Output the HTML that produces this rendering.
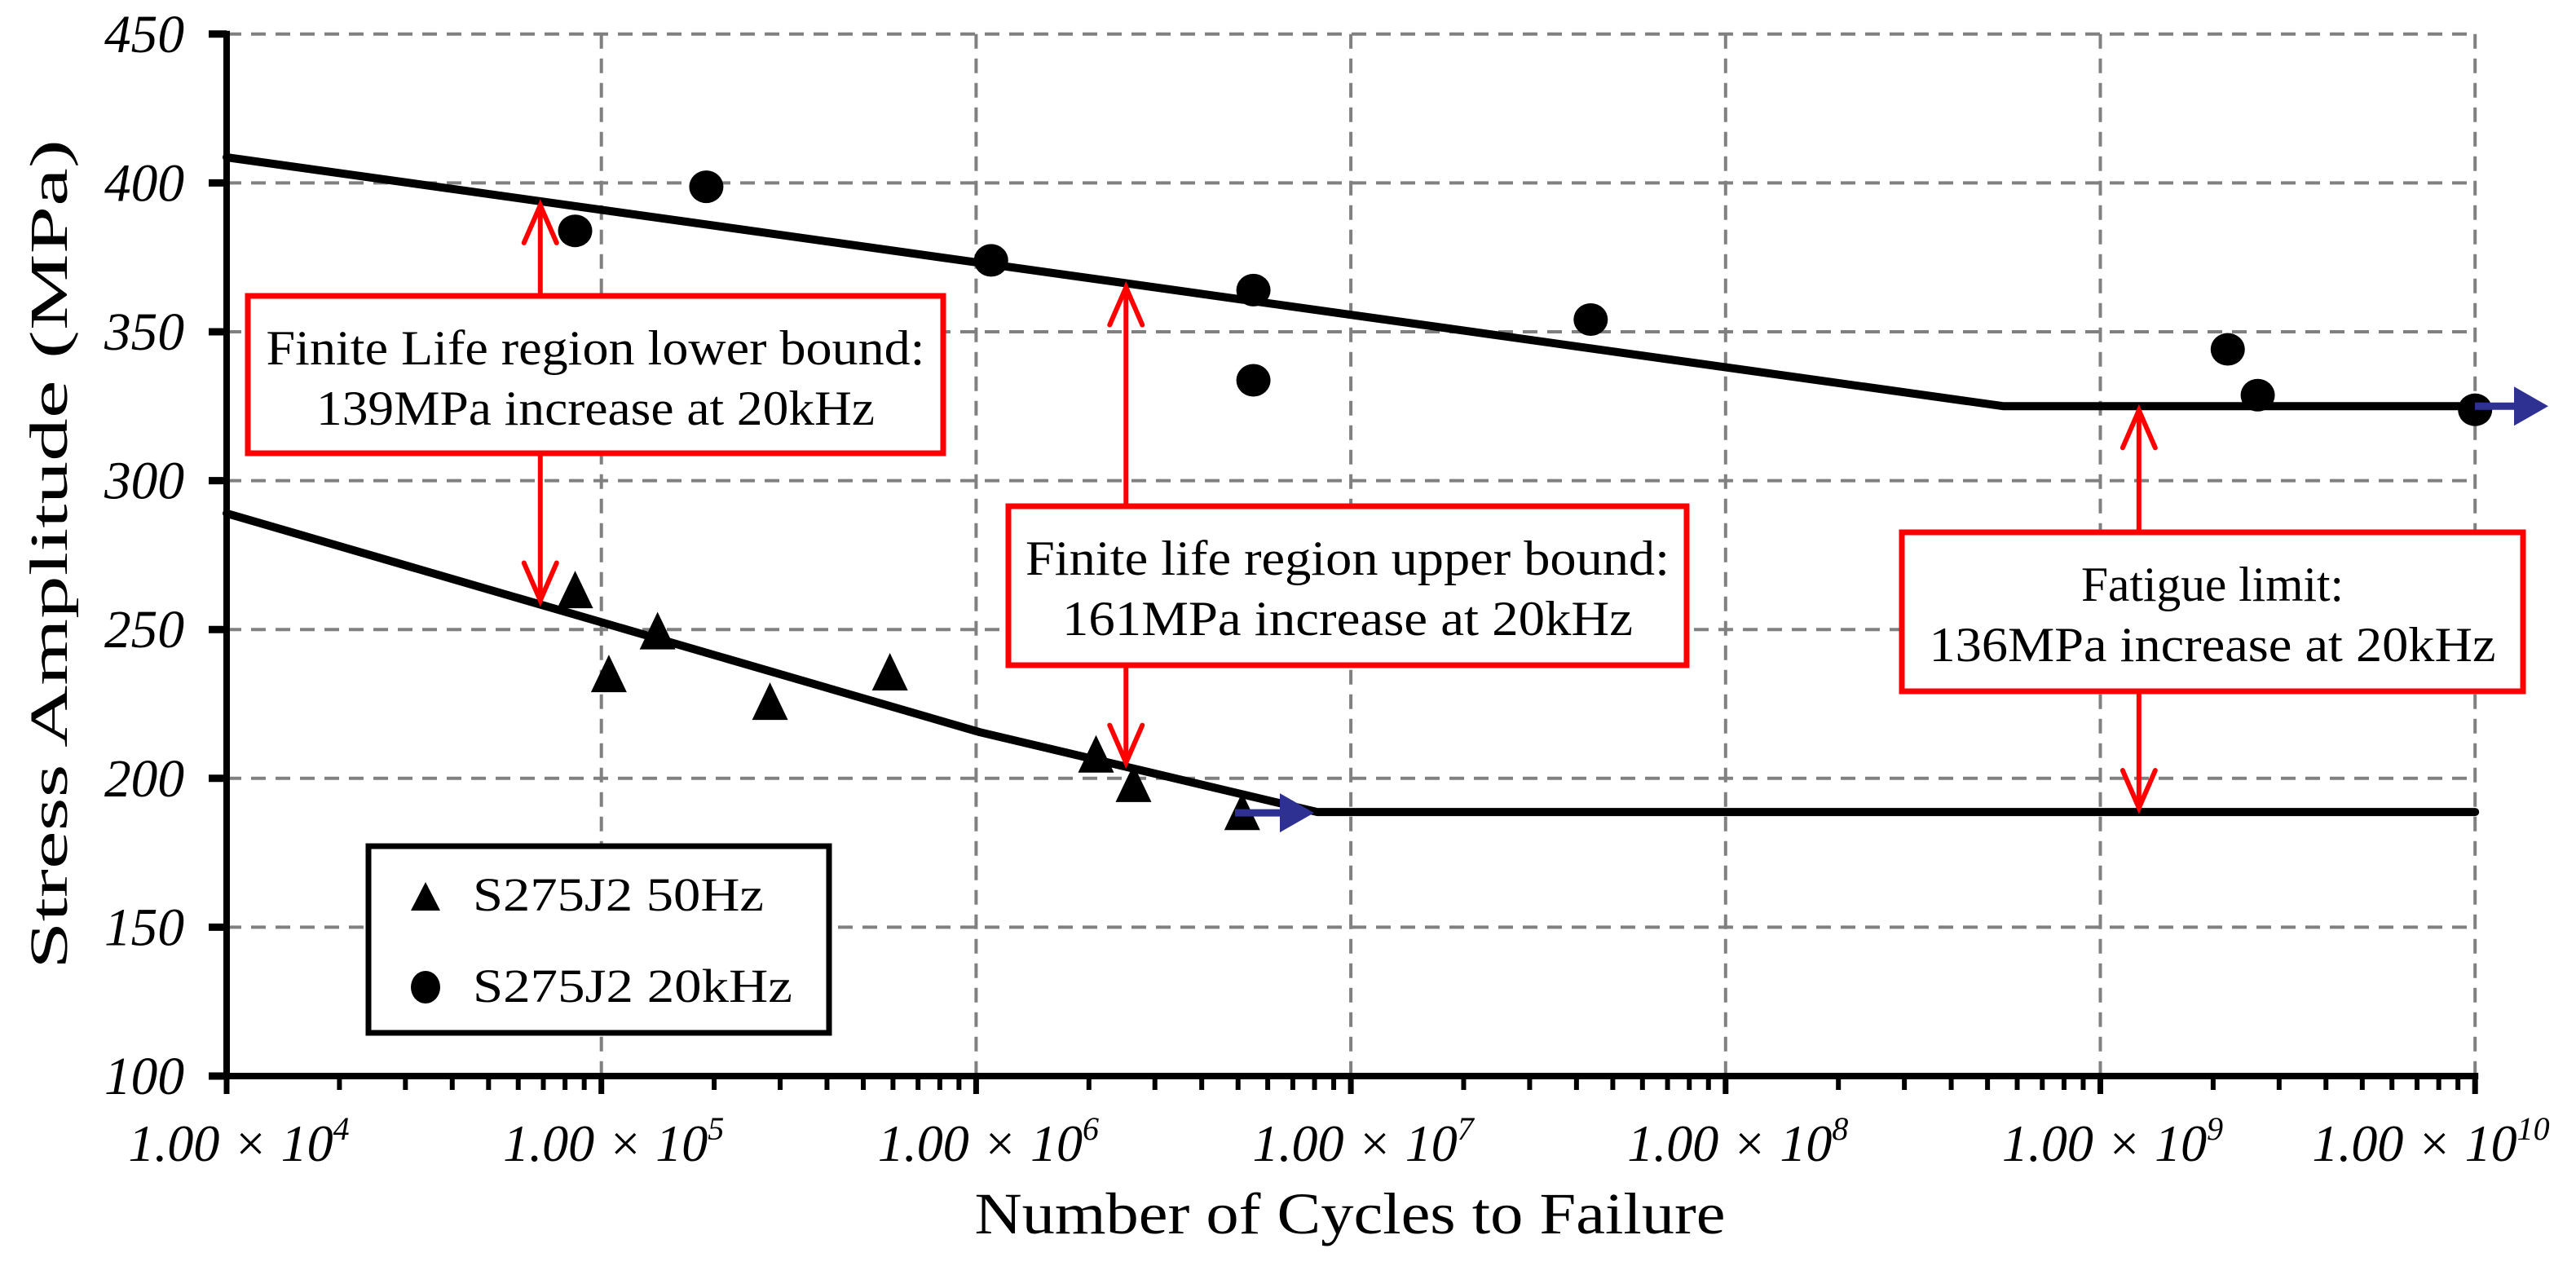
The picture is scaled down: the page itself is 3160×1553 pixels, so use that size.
<!DOCTYPE html>
<html><head><meta charset="utf-8"><style>
html,body{margin:0;padding:0;background:#fff;}
svg{display:block;font-family:"Liberation Serif",serif;}
</style></head><body>
<svg id="chart" width="3160" height="1553" viewBox="0 0 3160 1553" xmlns="http://www.w3.org/2000/svg">
<g id="grid"></g>
<g id="lines"></g>
<g id="marks"></g>
<g id="axes"></g>
<g id="annot"></g>
<text transform="translate(82,680) rotate(-90)" text-anchor="middle" font-size="66" textLength="1018" lengthAdjust="spacingAndGlyphs">Stress Amplitude (MPa)</text>
<text x="1656" y="1513" text-anchor="middle" font-size="72" textLength="921" lengthAdjust="spacingAndGlyphs">Number of Cycles to Failure</text>
<g>
<rect x="452" y="1038" width="565" height="229" fill="#fff" stroke="#000" stroke-width="7"/>
<polygon points="522,1082 504,1117 540,1117" fill="#000"/>
<text x="580" y="1117" font-size="58" textLength="357" lengthAdjust="spacingAndGlyphs">S275J2 50Hz</text>
<ellipse cx="522" cy="1211" rx="18" ry="20" fill="#000"/>
<text x="580" y="1229" font-size="58" textLength="392" lengthAdjust="spacingAndGlyphs">S275J2 20kHz</text>
</g>
</svg>
<script>
// ---- data ----
const tri50Log = [4.93, 5.02, 5.15, 5.45, 5.77, 6.32, 6.42, 6.71];
const tri50Val = [262.6, 234.4, 248.8, 225.1, 235.0, 207.4, 197.5, 188.1];
const circ20kLog = [4.93, 5.28, 6.04, 6.74, 6.74, 7.64, 9.34, 9.42, 10.0];
const circ20kVal = [383.9, 398.7, 374.0, 364.0, 333.7, 354.1, 344.1, 328.7, 323.8];
const upperLineLog = [4, 8.742, 10];
const upperLineVal = [408.6, 325, 325];
const lowerLineLog = [4, 6.01, 6.91, 10];
const lowerLineVal = [289, 215.5, 188.7, 188.7];
const yTicks = [100, 150, 200, 250, 300, 350, 400, 450];
const xDecades = [4, 5, 6, 7, 8, 9, 10];
const annArrowLog = [4.837, 6.40, 9.103];
const annLine1 = ["Finite Life region lower bound:", "Finite life region upper bound:", "Fatigue limit:"];
const annLine2 = ["139MPa increase at 20kHz", "161MPa increase at 20kHz", "136MPa increase at 20kHz"];
const annLine1Len = [808, 790, 322];
const annLine2Len = [685, 700, 695];

// ---- scales ----
const X0 = 278, DEC = 459.7, Y100 = 1320, PER50 = 182.6;
const xs = l => X0 + (l - 4) * DEC;
const ys = v => Y100 - (v - 100) / 50 * PER50;
const NS = "http://www.w3.org/2000/svg";
function mk(tag, attrs, parent) {
  const e = document.createElementNS(NS, tag);
  for (const k in attrs) e.setAttribute(k, attrs[k]);
  parent.appendChild(e);
  return e;
}
function interp(L, V, l) {
  for (let i = 0; i < L.length - 1; i++) {
    if (l >= L[i] && l <= L[i + 1]) return V[i] + (V[i + 1] - V[i]) * (l - L[i]) / (L[i + 1] - L[i]);
  }
  return V[V.length - 1];
}
const grid = document.getElementById('grid');
const axes = document.getElementById('axes');
const lines = document.getElementById('lines');
const marks = document.getElementById('marks');
const annot = document.getElementById('annot');
const xR = xs(10);

// grid
yTicks.forEach(v => {
  if (v === 100) return;
  const g = mk('line', {x1: X0, x2: xR, y1: ys(v), y2: ys(v), stroke: '#808080', 'stroke-width': 4, 'stroke-dasharray': '18 12'}, grid);
  
  
});
xDecades.forEach(d => {
  if (d === 4) return;
  const g = mk('line', {x1: xs(d), x2: xs(d), y1: ys(450), y2: Y100, stroke: '#808080', 'stroke-width': 4, 'stroke-dasharray': '18 12'}, grid);
  
  
});

// axes
let a = mk('line', {x1: X0, x2: X0, y1: ys(450) - 4, y2: Y100 + 4, stroke: '#000', 'stroke-width': 8}, axes);


a = mk('line', {x1: X0 - 4, x2: xR + 4, y1: Y100, y2: Y100, stroke: '#000', 'stroke-width': 8}, axes);


yTicks.forEach(v => {
  const t = mk('line', {x1: X0 - 22, x2: X0, y1: ys(v), y2: ys(v), stroke: '#000', 'stroke-width': 9}, axes);
  
  
  const lb = mk('text', {x: 226, y: ys(v) + 22, 'text-anchor': 'end', 'font-size': 66, 'font-style': 'italic', textLength: 98, lengthAdjust: 'spacingAndGlyphs'}, axes);
  lb.textContent = v;
  
  
});
xDecades.forEach(d => {
  const t = mk('line', {x1: xs(d), x2: xs(d), y1: Y100, y2: Y100 + 22, stroke: '#000', 'stroke-width': 7}, axes);
  
  
  if (d < 10) {
    for (let k = 2; k <= 9; k++) {
      const m = mk('line', {x1: xs(d + Math.log10(k)), x2: xs(d + Math.log10(k)), y1: Y100, y2: Y100 + 17, stroke: '#000', 'stroke-width': 6}, axes);
      
      
    }
  }
  const cx = d === 10 ? 2982 : xs(d) + 15;
  const lb = mk('text', {x: cx, y: 1424, 'text-anchor': 'middle', 'font-size': 64, 'font-style': 'italic'}, axes);
  
  
  const t1 = mk('tspan', {}, lb); t1.textContent = '1.00 × 10';
  const t2 = mk('tspan', {dy: -26, 'font-size': 40}, lb); t2.textContent = d;
});

// fit lines
function drawLine(L, V, name) {
  const p = L.map((l, i) => xs(l) + ',' + ys(V[i])).join(' ');
  const e = mk('polyline', {points: p, fill: 'none', stroke: '#000', 'stroke-width': 10, 'stroke-linecap': 'round', 'stroke-linejoin': 'round'}, lines);
  
  
}
drawLine(upperLineLog, upperLineVal, 'fit-line-20khz');
drawLine(lowerLineLog, lowerLineVal, 'fit-line-50hz');

// markers
tri50Log.forEach((l, i) => {
  const x = xs(l), y = ys(tri50Val[i]);
  const t = mk('polygon', {points: `${x},${y - 26} ${x - 22},${y + 20} ${x + 22},${y + 20}`, fill: '#000'}, marks);
  
  
});
circ20kLog.forEach((l, i) => {
  const c = mk('ellipse', {cx: xs(l), cy: ys(circ20kVal[i]), rx: 21, ry: 20, fill: '#000'}, marks);
  
  
});

// runout arrows (blue)
function runout(x1, x2, y, name) {
  const l = mk('line', {x1: x1, x2: x2 - 30, y1: y, y2: y, stroke: '#2e3192', 'stroke-width': 9}, marks);
  
  
  const h = mk('polygon', {points: `${x2},${y} ${x2 - 42},${y - 24} ${x2 - 42},${y + 24}`, fill: '#2e3192'}, marks);
  
  
}
runout(1515, 1612, ys(188.7) + 1, 'runout-arrow-50hz');
runout(3036, 3126, ys(325), 'runout-arrow-20khz');

// annotations
const boxes = [[304, 363, 853, 193], [1237, 621, 832, 195], [2333, 653, 762, 195]];
boxes.forEach((b, i) => {
  const x = xs(annArrowLog[i]);
  const yTop = ys(interp(upperLineLog, upperLineVal, annArrowLog[i])) + 5;
  const yBot = ys(interp(lowerLineLog, lowerLineVal, annArrowLog[i])) - 5;
  const ar = mk('g', {stroke: '#ff0000', 'stroke-width': 6, fill: 'none', 'stroke-linecap': 'round'}, annot);
  
  
  mk('line', {x1: x, x2: x, y1: yTop, y2: yBot}, ar);
  mk('polyline', {points: `${x - 20},${yTop + 46} ${x},${yTop} ${x + 20},${yTop + 46}`}, ar);
  mk('polyline', {points: `${x - 20},${yBot - 46} ${x},${yBot} ${x + 20},${yBot - 46}`}, ar);
  const r = mk('rect', {x: b[0], y: b[1], width: b[2], height: b[3], fill: '#fff', stroke: '#ff0000', 'stroke-width': 7}, annot);
  
  
  const cx = b[0] + b[2] / 2;
  const t1 = mk('text', {x: cx, y: b[1] + 84, 'text-anchor': 'middle', 'font-size': 60, textLength: annLine1Len[i], lengthAdjust: 'spacingAndGlyphs'}, annot);
  t1.textContent = annLine1[i];
  
  
  const t2 = mk('text', {x: cx, y: b[1] + 158, 'text-anchor': 'middle', 'font-size': 60, textLength: annLine2Len[i], lengthAdjust: 'spacingAndGlyphs'}, annot);
  t2.textContent = annLine2[i];
  
  
});
</script>
</body></html>
